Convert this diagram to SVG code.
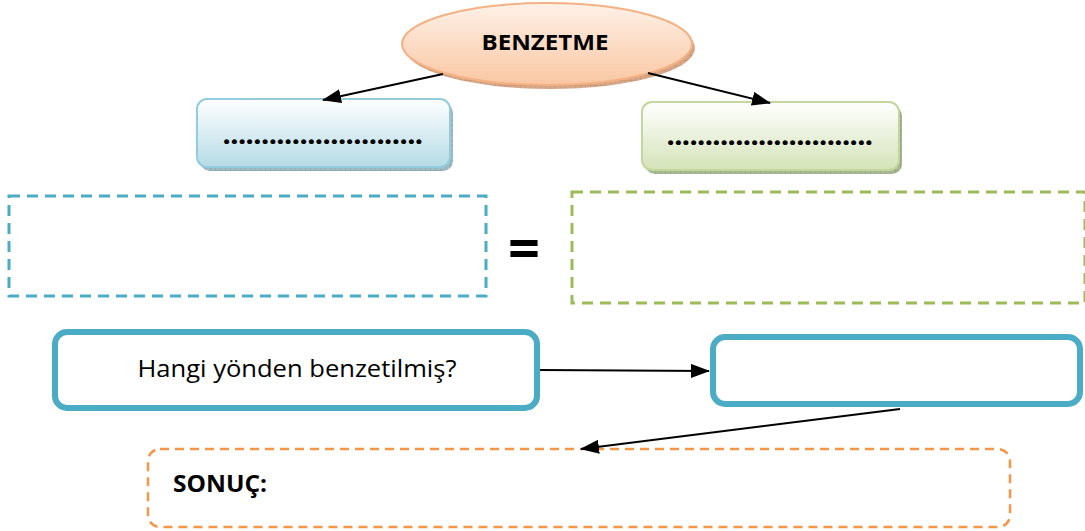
<svg xmlns="http://www.w3.org/2000/svg" width="1085" height="531" viewBox="0 0 1085 531">
  <defs>
    <linearGradient id="gOval" x1="0" y1="0" x2="0" y2="1">
      <stop offset="0" stop-color="#fef1e8"/>
      <stop offset="1" stop-color="#f9c7a2"/>
    </linearGradient>
    <linearGradient id="gBlue" x1="0" y1="0" x2="0" y2="1">
      <stop offset="0" stop-color="#ffffff"/>
      <stop offset="1" stop-color="#b5dbe6"/>
    </linearGradient>
    <linearGradient id="gGreen" x1="0" y1="0" x2="0" y2="1">
      <stop offset="0" stop-color="#ffffff"/>
      <stop offset="1" stop-color="#d4e3b8"/>
    </linearGradient>
    <pattern id="hatchTan" width="5" height="5" patternUnits="userSpaceOnUse">
      <rect width="5" height="5" fill="#d9a888"/>
      <path d="M0 0H5M0 0V5" stroke="#b98b6c" stroke-width="0.8"/>
    </pattern>
    <pattern id="hatchBlue" width="5" height="5" patternUnits="userSpaceOnUse">
      <rect width="5" height="5" fill="#9fbcc4"/>
      <path d="M0 0H5M0 0V5" stroke="#7d9aa3" stroke-width="0.8"/>
    </pattern>
    <pattern id="hatchGreen" width="5" height="5" patternUnits="userSpaceOnUse">
      <rect width="5" height="5" fill="#a8b895"/>
      <path d="M0 0H5M0 0V5" stroke="#87977a" stroke-width="0.8"/>
    </pattern>
    <marker id="arrow" viewBox="0 0 19 14" markerWidth="19" markerHeight="14" refX="18" refY="7" orient="auto" markerUnits="userSpaceOnUse">
      <path d="M0 0L19 7L0 14z" fill="#000"/>
    </marker>
  </defs>
  <style>
    .bold { font-family: "Open Sans", "Liberation Sans", sans-serif; font-weight: bold; fill: #000; }
    .plain { font-family: "Open Sans", "Liberation Sans", sans-serif; fill: #000; }
    .dots { font-family: "Open Sans", "Liberation Sans", sans-serif; font-weight: 800; font-size: 25px; letter-spacing: 0.4px; }
    .link { stroke: #000; stroke-width: 2; fill: none; marker-end: url(#arrow); }
    .dash { fill: none; stroke-width: 3; stroke-dasharray: 11 7; }
    .solidBlue { fill: #fff; stroke: #4bacc6; stroke-width: 6; }
  </style>

  <!-- main concept oval -->
  <g id="benzetme">
    <ellipse cx="550" cy="48" rx="145" ry="41" fill="url(#hatchTan)"/>
    <ellipse cx="547" cy="44" rx="145" ry="41" fill="url(#gOval)" stroke="#f4b183" stroke-width="2"/>
    <text class="bold" x="545" y="50" font-size="22" text-anchor="middle" textLength="127" lengthAdjust="spacingAndGlyphs">BENZETME</text>
  </g>

  <!-- left blank box -->
  <g id="left-term">
    <rect x="200" y="103" width="253" height="68" rx="10" fill="url(#hatchBlue)"/>
    <rect x="197" y="99" width="253" height="68" rx="10" fill="url(#gBlue)" stroke="#93cddd" stroke-width="2"/>
    <text class="dots" x="323" y="144" text-anchor="middle" textLength="200" lengthAdjust="spacing">..........................</text>
  </g>

  <!-- right blank box -->
  <g id="right-term">
    <rect x="645" y="106" width="257" height="68" rx="10" fill="url(#hatchGreen)"/>
    <rect x="642" y="102" width="257" height="68" rx="10" fill="url(#gGreen)" stroke="#c3d69b" stroke-width="2"/>
    <text class="dots" x="770" y="145" text-anchor="middle" textLength="206" lengthAdjust="spacing">...........................</text>
  </g>

  <!-- dashed answer areas -->
  <g id="left-area">
    <rect class="dash" x="9" y="196" width="477" height="100" stroke="#4bacc6"/>
  </g>
  <g id="equals">
    <text class="bold" x="524" y="268" font-size="56" text-anchor="middle" font-family="Liberation Sans, sans-serif">=</text>
  </g>
  <g id="right-area">
    <rect class="dash" x="572" y="192" width="513" height="111" stroke="#9bbb59"/>
  </g>

  <!-- question box -->
  <g id="question">
    <rect class="solidBlue" x="55" y="332" width="482" height="76" rx="12"/>
    <text class="plain" x="297" y="377" font-size="24" text-anchor="middle" textLength="319" lengthAdjust="spacingAndGlyphs">Hangi yönden benzetilmiş?</text>
  </g>

  <!-- answer box -->
  <g id="answer">
    <rect class="solidBlue" x="713" y="337" width="367" height="67" rx="12"/>
  </g>

  <!-- conclusion box -->
  <g id="sonuc">
    <rect x="148" y="449" width="862" height="78" rx="12" fill="none" stroke="#f79646" stroke-width="2.5" stroke-dasharray="9 6"/>
    <text class="bold" x="173" y="492" font-size="23" textLength="94" lengthAdjust="spacingAndGlyphs">SONUÇ:</text>
  </g>

  <!-- connectors -->
  <g id="connectors">
    <line class="link" x1="443" y1="74" x2="323" y2="100"/>
    <line class="link" x1="648" y1="73" x2="770" y2="103"/>
    <line class="link" x1="540" y1="370" x2="709" y2="371"/>
    <line class="link" x1="900" y1="409" x2="581" y2="449"/>
  </g>
</svg>
